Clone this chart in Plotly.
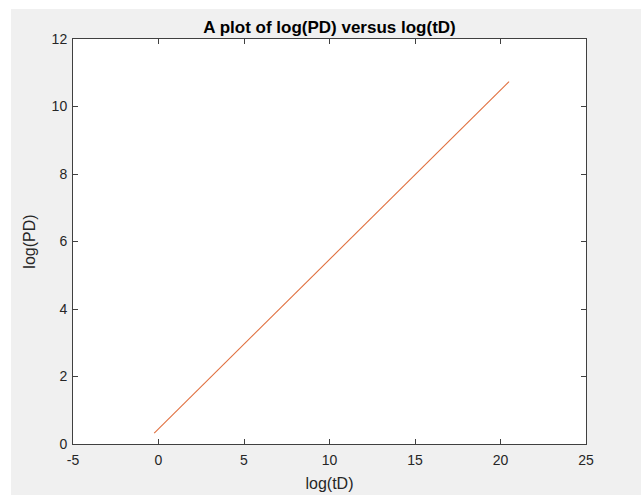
import plotly.graph_objects as go

# Data
log_tD = [-0.25, 20.5]
log_PD = [0.32, 10.74]

x_ticks = [-5, 0, 5, 10, 15, 20, 25]
y_ticks = [0, 2, 4, 6, 8, 10, 12]

AX = "#404040"
TXT = "#262626"
FONT = "Liberation Sans, Arial, sans-serif"

fig = go.Figure()
fig.add_trace(go.Scatter(x=log_tD, y=log_PD, mode="lines",
                         line=dict(color="#E0703F", width=1.1),
                         showlegend=False, hoverinfo="skip"))

axis_common = dict(showgrid=False, zeroline=False, showline=True, linecolor=AX,
                   linewidth=1, mirror="allticks", ticks="inside", ticklen=5,
                   tickcolor=AX, tickwidth=1, automargin=False,
                   tickfont=dict(family=FONT, size=14, color=TXT))

fig.update_layout(
    width=641, height=495,
    margin=dict(l=73, r=55, t=39, b=51),
    paper_bgcolor="#f0f0f0", plot_bgcolor="white",
    title=dict(text="<b>A plot of log(PD) versus log(tD)</b>", x=0.5, xref="paper",
               xanchor="center", y=1 - 27 / 495, yanchor="middle",
               font=dict(family=FONT, size=17, color="black")),
    xaxis=dict(range=[-5, 25], tickvals=x_ticks, ticktext=[str(v) for v in x_ticks],
               ticklabelstandoff=3,
               title=dict(text="log(tD)", font=dict(family=FONT, size=16, color=TXT), standoff=11),
               **axis_common),
    yaxis=dict(range=[0, 12], tickvals=y_ticks, ticktext=[str(v) for v in y_ticks],
               ticklabelstandoff=2,
               title=dict(text="log(PD)", font=dict(family=FONT, size=16, color=TXT), standoff=12),
               **axis_common),
)

# white strips at the top and left edge of the window
pw, ph = 513.0, 405.0
fig.add_shape(type="rect", xref="paper", yref="paper", x0=-73 / pw, x1=-62 / pw,
              y0=-60 / ph, y1=460 / ph, fillcolor="white", line_width=0, layer="above")
fig.add_shape(type="rect", xref="paper", yref="paper", x0=-73 / pw, x1=600 / pw,
              y0=435 / ph, y1=460 / ph, fillcolor="white", line_width=0, layer="above")

fig.write_html("out.html")
